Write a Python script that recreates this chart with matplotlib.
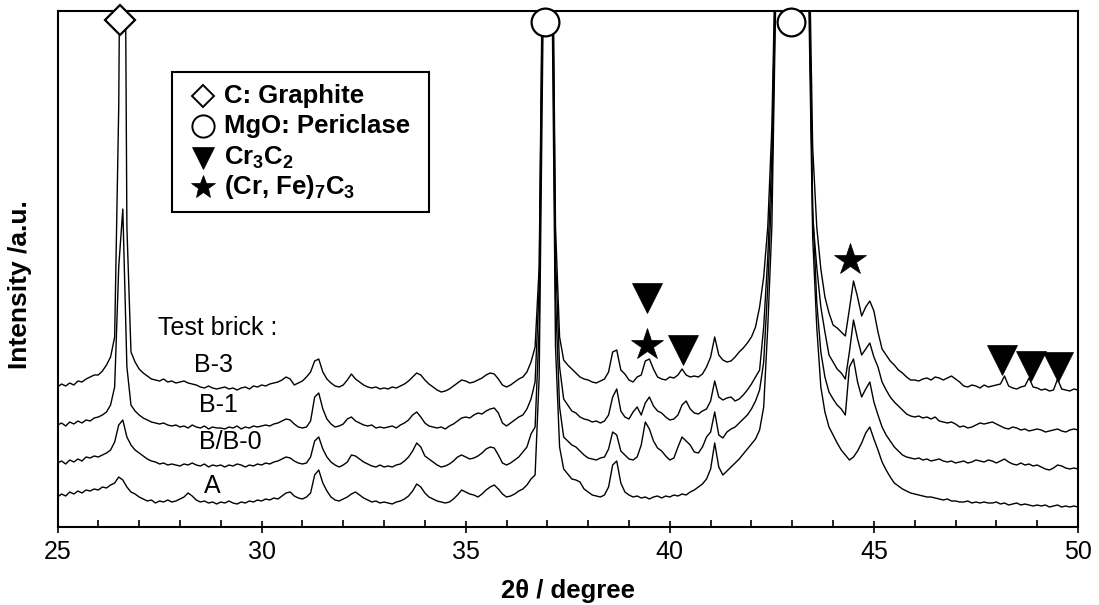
import numpy as np
import matplotlib
matplotlib.use("Agg")
import matplotlib.pyplot as plt
from matplotlib.ticker import MultipleLocator
from matplotlib.patches import Rectangle
from matplotlib.lines import Line2D

plt.rcParams['font.family'] = ['Liberation Sans', 'DejaVu Sans']
plt.rcParams['mathtext.fontset'] = 'custom'
plt.rcParams['mathtext.rm'] = 'Liberation Sans'
plt.rcParams['mathtext.bf'] = 'Liberation Sans:bold'
plt.rcParams['mathtext.it'] = 'Liberation Sans:italic'

# ---------------- data (intensity, arbitrary units) ----------------
two_theta = np.linspace(25.0, 50.0, 251)

trace_A = (
    [30, 33, 31, 35, 33, 36, 34, 37, 36, 38] +      # 25
    [37, 40, 39, 42, 44, 50, 47, 40, 35, 33] +      # 26
    [30, 28, 26, 27, 24, 26, 25, 27, 25, 26] +      # 27
    [28, 30, 34, 31, 27, 25, 26, 24, 25, 23] +      # 28
    [25, 24, 26, 24, 23, 25, 24, 26, 25, 27] +      # 29
    [26, 28, 27, 29, 28, 31, 34, 35, 31, 29] +      # 30
    [28, 30, 34, 52, 57, 44, 36, 30, 27, 26] +      # 31
    [28, 30, 33, 35, 32, 29, 27, 25, 26, 24] +      # 32
    [25, 24, 23, 25, 26, 28, 31, 36, 43, 40] +      # 33
    [34, 30, 28, 26, 25, 24, 25, 28, 32, 37] +      # 34
    [35, 33, 32, 30, 33, 37, 40, 42, 38, 33] +      # 35
    [30, 31, 33, 36, 38, 42, 48, 52, 150, 520] +    # 36
    [1000, 600, 180, 80, 58, 53, 48, 47, 45, 38] +  # 37
    [35, 32, 31, 30, 32, 40, 62, 66, 44, 35] +      # 38
    [32, 30, 31, 29, 30, 28, 30, 31, 29, 31] +      # 39
    [30, 32, 31, 33, 32, 35, 37, 40, 43, 48] +      # 40
    [58, 84, 60, 52, 56, 60, 64, 68, 73, 78] +      # 41
    [83, 88, 97, 120, 200, 300, 540, 1000, 1000, 1000] +  # 42
    [1000, 1000, 1000, 1000, 540, 290, 200, 140, 115, 100] +  # 43
    [92, 84, 77, 72, 67, 70, 76, 84, 94, 100] +     # 44
    [88, 77, 65, 57, 50, 44, 41, 38, 36, 34] +      # 45
    [33, 32, 31, 30, 30, 29, 28, 27, 28, 26] +      # 46
    [26, 25, 25, 26, 24, 25, 24, 25, 24, 24] +      # 47
    [25, 23, 24, 22, 23, 24, 22, 23, 22, 21] +      # 48
    [22, 21, 22, 20, 21, 22, 20, 21, 20, 21] +      # 49
    [20]
)

trace_B0 = (
    [64, 66, 63, 67, 65, 68, 66, 70, 69, 71] +
    [70, 72, 74, 77, 85, 102, 107, 90, 82, 77] +
    [74, 71, 68, 66, 65, 63, 64, 62, 63, 62] +
    [61, 63, 62, 64, 62, 61, 63, 60, 62, 61] +
    [62, 60, 62, 61, 63, 62, 60, 62, 61, 63] +
    [62, 64, 63, 65, 66, 68, 70, 69, 66, 64] +
    [63, 64, 70, 86, 90, 78, 70, 65, 62, 60] +
    [62, 65, 72, 71, 68, 65, 63, 61, 60, 62] +
    [60, 61, 60, 62, 63, 66, 70, 76, 84, 80] +
    [71, 68, 65, 62, 60, 61, 63, 66, 70, 72] +
    [70, 68, 69, 71, 74, 78, 80, 79, 72, 64] +
    [62, 64, 67, 70, 75, 80, 93, 100, 200, 600] +
    [1000, 650, 230, 120, 90, 86, 82, 80, 76, 72] +
    [69, 68, 67, 69, 70, 78, 95, 92, 76, 72] +
    [68, 67, 70, 82, 105, 98, 86, 79, 76, 71] +
    [67, 69, 80, 90, 86, 82, 75, 74, 80, 90] +
    [95, 115, 92, 89, 95, 98, 100, 104, 108, 112] +
    [118, 126, 137, 165, 240, 340, 560, 1000, 1000, 1000] +
    [1000, 1000, 1000, 1000, 570, 320, 225, 175, 150, 135] +
    [128, 122, 118, 112, 160, 168, 145, 130, 138, 145] +
    [125, 112, 100, 92, 86, 80, 76, 72, 70, 69] +
    [68, 69, 67, 68, 66, 67, 68, 66, 65, 66] +
    [64, 65, 66, 64, 65, 67, 66, 65, 67, 66] +
    [64, 66, 68, 65, 63, 62, 64, 62, 63, 61] +
    [62, 60, 58, 57, 59, 62, 61, 59, 58, 59] +
    [58]
)

trace_B1 = (
    [102, 104, 101, 105, 103, 106, 104, 107, 106, 109] +
    [110, 112, 115, 122, 140, 260, 318, 160, 122, 116] +
    [112, 109, 107, 105, 104, 103, 104, 102, 101, 102] +
    [100, 101, 99, 102, 100, 99, 101, 98, 100, 99] +
    [99, 98, 100, 99, 101, 98, 100, 99, 101, 100] +
    [101, 102, 101, 103, 104, 106, 108, 107, 103, 100] +
    [99, 100, 106, 130, 134, 118, 108, 103, 100, 101] +
    [103, 108, 110, 106, 104, 102, 101, 102, 99, 100] +
    [99, 100, 101, 99, 102, 104, 107, 112, 115, 110] +
    [104, 101, 100, 99, 100, 98, 101, 103, 106, 109] +
    [110, 109, 112, 114, 113, 116, 118, 119, 114, 104] +
    [101, 104, 107, 110, 112, 118, 128, 145, 240, 620] +
    [1000, 700, 270, 160, 128, 122, 116, 114, 110, 108] +
    [107, 105, 106, 104, 106, 112, 130, 138, 116, 110] +
    [108, 115, 120, 112, 124, 130, 121, 116, 114, 110] +
    [107, 108, 112, 122, 126, 118, 114, 113, 116, 118] +
    [126, 146, 130, 127, 129, 130, 126, 128, 132, 137] +
    [143, 150, 157, 200, 270, 370, 580, 1000, 1000, 1000] +
    [1000, 1000, 1000, 1000, 590, 310, 260, 220, 195, 172] +
    [165, 158, 154, 148, 175, 207, 188, 172, 178, 184] +
    [170, 160, 145, 137, 130, 125, 121, 117, 113, 111] +
    [110, 111, 109, 110, 108, 110, 106, 105, 104, 105] +
    [103, 100, 101, 99, 100, 102, 104, 103, 104, 105] +
    [103, 101, 99, 98, 100, 99, 97, 98, 96, 97] +
    [98, 97, 95, 96, 97, 98, 96, 95, 97, 98] +
    [97]
)

trace_B3 = (
    [140, 143, 141, 144, 142, 146, 145, 148, 150, 152] +
    [152, 156, 162, 170, 190, 420, 1000, 300, 175, 165] +
    [158, 154, 151, 148, 147, 146, 148, 145, 146, 144] +
    [145, 146, 144, 143, 142, 140, 139, 141, 139, 138] +
    [139, 140, 138, 139, 137, 139, 140, 138, 141, 140] +
    [142, 141, 143, 144, 145, 147, 150, 148, 142, 144] +
    [146, 150, 155, 166, 168, 155, 148, 144, 141, 140] +
    [142, 147, 153, 148, 145, 142, 140, 139, 140, 138] +
    [139, 138, 140, 139, 141, 143, 146, 150, 154, 152] +
    [147, 143, 140, 137, 135, 136, 138, 141, 144, 147] +
    [146, 144, 145, 147, 149, 152, 154, 153, 148, 142] +
    [140, 142, 145, 148, 150, 155, 165, 180, 260, 640] +
    [1000, 720, 300, 190, 167, 162, 158, 154, 150, 148] +
    [147, 145, 144, 146, 148, 155, 175, 177, 157, 153] +
    [147, 145, 150, 152, 166, 168, 158, 150, 148, 147] +
    [150, 149, 152, 158, 152, 150, 151, 150, 153, 160] +
    [170, 190, 172, 167, 165, 166, 170, 175, 179, 184] +
    [190, 200, 220, 250, 300, 400, 600, 1000, 1000, 1000] +
    [1000, 1000, 1000, 1000, 620, 380, 300, 258, 230, 214] +
    [202, 199, 195, 191, 218, 246, 230, 211, 220, 226] +
    [216, 195, 178, 172, 166, 162, 157, 154, 150, 147] +
    [147, 146, 148, 149, 147, 150, 149, 147, 149, 151] +
    [148, 145, 141, 140, 142, 141, 139, 142, 140, 141] +
    [142, 143, 151, 141, 139, 138, 140, 141, 149, 140] +
    [139, 137, 138, 136, 137, 148, 138, 137, 136, 138] +
    [137]
)

traces = [trace_A, trace_B0, trace_B1, trace_B3]
sample_names = ['A', 'B/B-0', 'B-1', 'B-3']
# label anchor (2theta, intensity) for sample names
name_x = [28.59, 28.47, 28.47, 28.35]
name_y = [41, 85, 122, 162]

# phase markers
graphite_x, graphite_y = [26.53], [507]
periclase_x, periclase_y = [36.95, 42.98], [505, 505]
cr3c2_x = [39.45, 40.33, 48.15, 48.86, 49.52]
cr3c2_y = [229, 177, 167, 161, 160]
crfe_x, crfe_y = [39.45, 44.42], [182, 267]

legend_labels = ['C: Graphite', 'MgO: Periclase',
                 r'Cr$_{\mathbf{3}}$C$_{\mathbf{2}}$',
                 r'(Cr, Fe)$_{\mathbf{7}}$C$_{\mathbf{3}}$']

# ---------------- figure ----------------
W, H = 1099, 605
fig = plt.figure(figsize=(W / 100, H / 100), dpi=100)
ax = fig.add_axes([57.5 / W, 1 - 527 / H, (1078 - 57.5) / W, (527 - 11) / H])

for y in traces:
    ax.plot(two_theta, y, color='black', lw=1.0, zorder=2)

ax.set_xlim(25, 50)
ax.set_ylim(0, 516)
ax.set_yticks([])
ax.set_xticks(range(25, 51, 5))
ax.xaxis.set_minor_locator(MultipleLocator(1))
ax.tick_params(axis='x', which='major', direction='inout', length=9, width=1.2,
               labelsize=18, pad=5, color='black')
ax.tick_params(axis='x', which='minor', direction='in', length=5, width=1.2)
for s in ax.spines.values():
    s.set_linewidth(1.5)

# phase markers on peaks
mk = dict(linestyle='none', clip_on=False, zorder=5, markeredgecolor='black')
ax.plot(graphite_x, graphite_y, marker='D', ms=15, mfc='white', mew=1.6, **mk)
ax.plot(periclase_x, periclase_y, marker='o', ms=20, mfc='white', mew=1.6, **mk)
ax.plot(cr3c2_x, cr3c2_y, marker='v', ms=21, mfc='black', mew=0.5, **mk)
ax.plot(crfe_x, crfe_y, marker='*', ms=24, mfc='black', mew=0.5, **mk)

# sample names
ax.text(27.47, 199, 'Test brick :', fontsize=18, ha='left', va='center')
for nx, ny, nm in zip(name_x, name_y, sample_names):
    ax.text(nx, ny, nm, fontsize=18, ha='left', va='center')

# axis labels
fig.text(568 / W, 1 - 591 / H, '2θ / degree', fontsize=18.5, fontweight='bold',
         ha='center', va='center')
fig.text(20 / W, 1 - 285 / H, 'Intensity /a.u.', fontsize=19, fontweight='bold',
         rotation=90, ha='center', va='center')

# manual legend box
fig.patches.append(Rectangle((172 / W, 1 - 212 / H), (429 - 172) / W, (212 - 72) / H,
                             transform=fig.transFigure, fill=True, facecolor='white',
                             edgecolor='black', lw=1.5, zorder=6))
rows_y = [95.5, 126, 158, 187]
leg_markers = [('D', 11.5, 'white'), ('o', 16, 'white'), ('v', 16, 'black'), ('*', 18, 'black')]
for (m, ms, fc), ry, lab in zip(leg_markers, rows_y, legend_labels):
    fig.add_artist(Line2D([203 / W], [1 - ry / H], marker=m, ms=ms, mfc=fc,
                          mec='black', mew=1.4 if fc == 'white' else 0.5,
                          linestyle='none', transform=fig.transFigure, zorder=7))
    fig.text(224 / W, 1 - ry / H, lab, fontsize=18.5, fontweight='bold',
             ha='left', va='center', zorder=7)

fig.savefig('out.png', dpi=100)
